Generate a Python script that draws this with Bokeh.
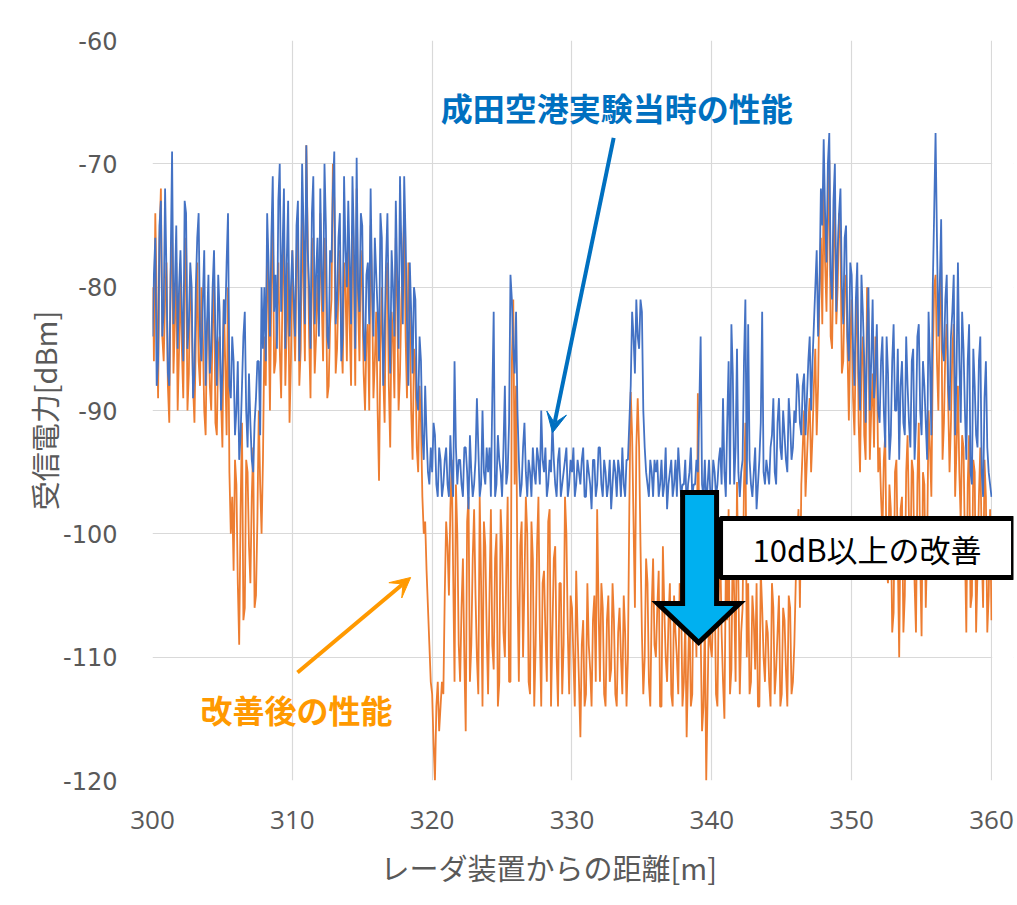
from bokeh.plotting import figure
from bokeh.models import Label, Arrow, VeeHead, FixedTicker, ColumnDataSource, Title
from bokeh.embed import file_html
from bokeh.resources import INLINE

# ---- data ----
# values at 300.0, 300.2, ..., 360.0 m
before_even = [
    -84, -76, -86, -73, -82, -79, -88, -69, -80, -85,
    -77, -86, -74, -83, -80, -87, -76, -84, -81, -88,
    -79, -85, -77, -88, -82, -87, -83, -74, -89, -86,
    -90, -94, -88, -82, -93, -91, -95, -89, -86, -80,
    -80, -74, -84, -71, -79, -73, -82, -72, -78, -84,
    -77, -84, -73, -81, -75, -68.5, -80, -74, -83, -76,
    -72, -82, -75, -85, -78, -69, -81, -74, -84, -77,
    -73, -83, -76, -69.5, -82, -75, -86, -78, -72, -84,
    -79, -86, -76, -84, -74, -87, -80, -73, -85, -77,
    -71, -83, -78, -87, -81, -90, -86, -94, -92, -96,
    -95, -92, -97, -94, -96, -93, -97, -95, -86, -96,
    -94, -97, -93, -98, -95, -96, -89, -97, -90, -96,
    -95, -97, -82, -96, -94, -97, -88, -95, -79, -85,
    -82, -94, -96, -91, -97, -95, -93, -96, -94, -90,
    -95, -97, -94, -91, -96, -94, -97, -95, -93, -96,
    -95, -97, -94, -96, -93, -97, -95, -98, -94, -96,
    -93, -97, -95, -96, -98, -94, -97, -95, -93, -97,
    -94, -88, -84, -81, -85, -82, -93, -96, -94, -97,
    -95, -97, -94, -96, -98, -95, -97, -94, -93, -97,
    -96, -98, -95, -97, -96, -95, -84, -97, -98, -94,
    -97, -95, -96, -93, -89, -97, -86, -83, -96, -85,
    -97, -94, -81, -83, -96, -95, -98, -94, -82, -96,
    -95, -93, -89, -96, -89, -94, -92, -95, -91, -93,
    -91, -88, -92, -87, -89, -84, -86, -80, -84, -72,
    -68, -78, -67.5, -81, -70, -77, -72, -83, -75, -86,
    -79, -88, -78, -90, -82, -91, -80, -86, -89, -83,
    -91, -84, -93, -87, -92, -83, -90, -94, -86, -92,
    -88, -93, -85, -91, -83, -92, -88, -94, -86, -80,
    -67.5, -84, -74.5, -86, -79, -90, -82, -92, -78, -91,
    -85, -94, -83, -96, -88, -93, -84, -97, -86, -95,
    -97,
]
# values at 300.1, 300.3, ..., 359.9 m
before_odd = [
    -79, -88, -75, -84, -72, -87, -78, -83, -75, -80,
    -82, -73, -85, -78, -89, -80, -74, -86, -77, -83,
    -87, -80, -84, -79, -90, -81, -78, -88, -84, -92,
    -86, -92, -84, -90, -87, -94, -91, -86, -92, -85,
    -86, -78, -76, -82, -85, -70, -77, -85, -73, -80,
    -81, -75, -86, -70, -83, -77, -85, -71, -79, -84,
    -79, -70, -84, -77, -72, -83, -76, -86, -71, -80,
    -78, -71, -85, -80, -74, -84, -79, -83, -80, -76,
    -82, -74, -88, -78, -82, -77, -84, -79, -71, -83,
    -76, -88, -82, -80, -89, -84, -92, -88, -95, -93,
    -91, -96, -93, -97, -94, -96, -92, -97, -93, -94,
    -96, -93, -95, -92, -97, -94, -93, -96, -95, -93,
    -93, -89, -97, -92, -95, -93, -96, -91, -81, -87,
    -90, -97, -93, -95, -94, -97, -95, -93, -96, -94,
    -93, -96, -95, -94, -97, -93, -96, -94, -97, -94,
    -93, -96, -95, -94, -97, -94, -96, -94, -97, -93,
    -96, -94, -97, -94, -96, -95, -94, -97, -96, -94,
    -91, -82, -87, -84, -81, -90, -95, -97, -95, -94,
    -94, -96, -97, -93, -96, -94, -96, -97, -95, -96,
    -94, -96, -93, -96, -94, -90, -96, -94, -96, -97,
    -94, -97, -94, -96, -95, -91, -96, -87, -93, -95,
    -95, -86, -96, -94, -97, -93, -96, -91, -95, -94,
    -96, -92, -95, -91, -93, -90, -94, -89, -94, -90,
    -87, -91, -88, -92, -86, -90, -83, -77, -80, -75,
    -74, -70, -79, -73, -82, -74, -80, -76, -84, -78,
    -85, -81, -87, -79, -86, -84, -90, -81, -87, -90,
    -86, -90, -84, -94, -86, -90, -85, -88, -91, -84,
    -91, -86, -94, -84, -90, -86, -91, -82, -92, -74,
    -76, -80, -85, -81, -88, -84, -79, -87, -86, -82,
    -90, -86, -95, -85, -92, -86, -95, -89, -93, -96,
]
after_even = [
    -80, -74, -89, -72, -86, -78, -91, -75, -83, -90,
    -79, -89, -76, -87, -82, -91, -78, -88, -84, -92,
    -82, -90, -79, -92, -84, -93, -86, -80, -100, -103,
    -96, -109, -91, -106, -95, -104, -93, -105, -90, -100,
    -84, -76, -90, -74, -86, -78, -89, -75, -83, -91,
    -77, -86, -75, -85, -80, -68.5, -84, -76, -87, -79,
    -74, -86, -79, -88, -81, -73, -85, -77, -87, -80,
    -76, -88, -79, -72, -86, -80, -90, -83, -75, -89,
    -82, -95.7, -80, -91, -78, -93, -84, -76, -90, -81,
    -74, -89, -82, -94, -86, -95, -91, -100, -103, -109,
    -113, -120, -112, -114, -113, -99, -105, -94, -112, -100,
    -112, -102, -116, -97, -109, -98, -110, -97, -114, -101,
    -113, -98, -111, -100, -112, -101, -110, -97, -112, -81,
    -88, -112, -99, -104, -100, -113, -102, -109, -97, -114,
    -103, -112, -98, -108, -101, -114, -104, -109, -100, -113,
    -106, -114, -108, -116.5, -107, -113, -109, -114, -105, -98,
    -112, -106, -114, -105, -111, -107, -114, -106, -113, -108,
    -110, -88.5, -99, -93, -93, -108, -110, -104, -114, -102,
    -110, -103, -114, -106, -112, -104, -114, -108, -113, -105,
    -112, -116.5, -106, -113, -104, -88.6, -108, -114, -120, -106,
    -110, -104, -114, -101, -112, -103, -98, -111, -105, -95.8,
    -113, -106, -91, -104, -112, -107, -104, -114, -106, -112,
    -108, -114, -106, -111, -105, -113, -107, -114, -106, -112,
    -104, -98, -96, -90, -94, -89, -92, -85, -88, -76,
    -72, -82, -69.7, -85, -73, -80, -76, -86, -79, -90.8,
    -81, -92, -80, -95, -84, -94, -82, -90, -93, -86,
    -93, -100, -92, -104, -98, -106.4, -94, -110, -97, -105,
    -92, -103, -95, -108, -91, -108.3, -96, -101, -93, -86,
    -79, -90, -78, -91, -83, -95, -85, -97, -88, -99,
    -93, -108, -92, -105, -95, -103, -93, -106, -97, -105,
    -107,
]
after_odd = [
    -86, -81, -76, -84, -81, -88, -79, -87, -78, -85,
    -85, -80, -90, -79, -88, -84, -86, -80, -90, -83,
    -88, -83, -91, -85, -89, -81, -92, -95, -97, -94,
    -104, -98, -107, -94, -101, -97, -106, -99, -96, -94,
    -88, -82, -80, -87, -82, -85, -80, -88, -78, -86,
    -82, -78, -88, -73, -86, -76, -89, -80, -84, -83,
    -81, -76, -89, -83, -70, -87, -80, -84, -78, -86,
    -83, -75, -88, -81, -77, -87, -84, -90, -80, -86,
    -90, -85, -87, -80, -88, -82, -89, -81, -87, -78,
    -84, -78, -90, -85, -93, -88, -97, -99, -106, -112,
    -117, -114, -116, -112, -105, -101, -98, -103, -96, -109,
    -106, -110, -99, -112, -102, -105, -113, -104, -99, -108,
    -105, -109, -102, -114, -98, -108, -103, -112, -86, -96,
    -104, -101, -110, -97, -112, -99, -114, -101, -108, -104,
    -108, -99, -114, -102, -110, -104, -113, -97, -108, -105,
    -110, -103, -112, -109, -114, -104, -111, -107, -112, -106,
    -104, -113, -107, -112, -104, -113, -108, -110, -105, -114,
    -98, -92, -106, -89, -101, -113, -102, -112, -106, -109,
    -106, -114, -101, -110, -107, -113, -105, -110, -104, -114,
    -107, -111, -114, -102, -110, -100, -116, -107, -113, -109,
    -106, -113, -105, -108, -115, -107, -113, -100, -112, -104,
    -108, -96, -110, -113, -105, -111, -114, -103, -110, -107,
    -112, -104, -113, -108, -114, -106, -111, -105, -113, -109,
    -100, -106, -93, -97, -91, -95, -88, -92, -80, -83,
    -78, -75, -84, -77, -83, -74, -87, -80, -85, -84,
    -89, -84, -91, -86, -92, -80, -94, -87, -84, -95,
    -97, -94, -103, -96, -108, -95, -102, -98, -108, -95,
    -99, -94, -104, -96, -102, -95, -106, -90, -97, -80,
    -86, -82, -94, -85, -89, -91, -83, -93, -95, -92,
    -101, -96, -106, -94, -108, -97, -101, -94, -108, -98,
]

x_ticks = [300, 310, 320, 330, 340, 350, 360]
y_ticks = [-120, -110, -100, -90, -80, -70, -60]
y_tick_labels = ["-120", "-110", "-100", "-90", "-80", "-70", "-60"]

x_title = "レーダ装置からの距離[m]"
y_title = "受信電力[dBm]"
before_label = "成田空港実験当時の性能"
after_label = "改善後の性能"
gain_label = "10dB以上の改善"

# merge the two sampling sets into one 0.1 m series
distance_m, before_dbm, after_dbm = [], [], []
for i in range(len(before_odd)):
    distance_m += [round(300.0 + 0.2 * i, 1), round(300.1 + 0.2 * i, 1)]
    before_dbm += [before_even[i], before_odd[i]]
    after_dbm += [after_even[i], after_odd[i]]
distance_m.append(360.0)
before_dbm.append(before_even[-1])
after_dbm.append(after_even[-1])

JP = "Noto Sans CJK JP"
X_MAX = 360
X_VIEW_END = 361.574   # frame extends a little past 360 so the text box fits

src = ColumnDataSource(dict(x=distance_m, before=before_dbm, after=after_dbm))

p = figure(width=1015, height=900, x_range=(300, X_VIEW_END), y_range=(-120, -60),
           output_backend="svg", toolbar_location=None,
           min_border_left=152, min_border_right=2, min_border_top=40,
           min_border_bottom=120)
p.background_fill_color = "white"
p.border_fill_color = "white"
p.outline_line_color = None

p.line("x", "after", source=src, line_color="#ED7D31", line_width=1.8)
p.line("x", "before", source=src, line_color="#4472C4", line_width=1.8)

# blank the strip right of 360 (grid lines end at 360)
p.quad(left=[X_MAX + 0.05], right=[X_VIEW_END + 1], bottom=[-121], top=[-59],
       fill_color="white", line_color=None)

# axes
p.xaxis.ticker = FixedTicker(ticks=x_ticks)
p.yaxis.ticker = FixedTicker(ticks=y_ticks)
p.yaxis.major_label_overrides = {t: s for t, s in zip(y_ticks, y_tick_labels)}
p.xgrid.ticker = FixedTicker(ticks=x_ticks)
p.ygrid.ticker = FixedTicker(ticks=y_ticks)
p.xgrid.grid_line_color = "#d9d9d9"
p.ygrid.grid_line_color = "#d9d9d9"
p.xgrid.grid_line_width = 1.2
p.ygrid.grid_line_width = 1.2
for ax in (p.xaxis, p.yaxis):
    ax.axis_line_color = None
    ax.major_tick_line_color = None
    ax.minor_tick_line_color = None
    ax.major_label_text_color = "#595959"
    ax.axis_label_text_color = "#595959"
    ax.axis_label_text_font = JP
    ax.axis_label_text_font_style = "normal"
    ax.axis_label_text_font_size = "29px"
p.xaxis.major_label_text_font = "Open Sans"
p.xaxis.major_label_text_font_size = "26px"
p.xaxis.major_label_standoff = 24
p.yaxis.major_label_text_font = "DejaVu Sans"
p.yaxis.major_label_text_font_size = "24px"
p.yaxis.major_label_standoff = 29
p.yaxis.axis_label = y_title
p.yaxis.axis_label_standoff = -5

p.add_layout(Title(text=x_title, align="left", offset=228, standoff=24,
                   text_font=JP, text_font_size="29px", text_font_style="normal",
                   text_color="#595959"), "below")

# annotations
p.add_layout(Label(x=333.2, y=-65.4, text=before_label, text_font=JP,
                   text_font_size="32px", text_font_style="bold",
                   text_color="#0070C0", text_align="center",
                   text_baseline="middle"))
p.add_layout(Arrow(x_start=332.98, y_start=-67.9, x_end=328.61, y_end=-91.8,
                   line_color="#0070C0", line_width=4,
                   end=VeeHead(size=20, fill_color="#0070C0",
                               line_color="#0070C0")))
p.add_layout(Label(x=310.3, y=-114.2, text=after_label, text_font=JP,
                   text_font_size="32px", text_font_style="bold",
                   text_color="#FF9900", text_align="center",
                   text_baseline="middle"))
p.add_layout(Arrow(x_start=310.37, y_start=-111.24, x_end=318.46, y_end=-103.54,
                   line_color="#FF9900", line_width=4,
                   end=VeeHead(size=20, fill_color="#FF9900",
                               line_color="#FF9900")))

# big block arrow
bx = [337.91, 340.34, 340.34, 341.99, 339.06, 336.12, 337.91]
by = [-96.65, -96.65, -105.65, -105.65, -108.81, -105.65, -105.65]
p.patch(bx, by, fill_color="#00B0F0", line_color="black", line_width=5,
        line_join="miter")

p.add_layout(Label(x=351.10, y=-101.15, text=gain_label, text_font=JP,
                   text_font_size="31px", text_color="black",
                   text_align="center", text_baseline="middle",
                   background_fill_color="white", background_fill_alpha=1.0,
                   border_line_color="black", border_line_width=5,
                   padding=(32, 7)))

open("out.html", "w").write(file_html(p, INLINE))
